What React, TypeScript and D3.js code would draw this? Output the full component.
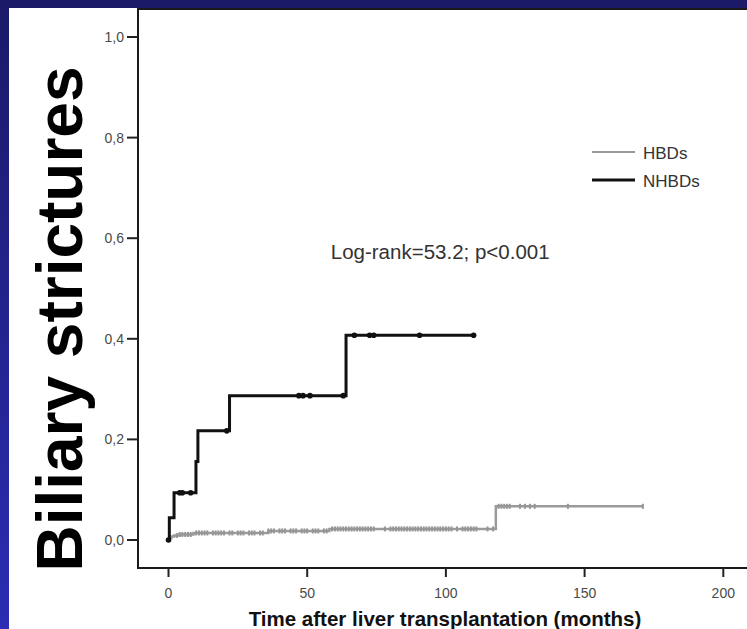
import React from 'react';
import * as d3 from 'd3';

// cumulative incidence of biliary strictures, step curves (months -> proportion)
const nhbdTimes = [0, 0.3, 2, 9.9, 10.6, 22, 64, 110];
const nhbdRisk = [0, 0.044, 0.094, 0.156, 0.217, 0.287, 0.407, 0.407];
const nhbdCensored = [0, 4, 5, 8, 21, 47, 48.5, 51, 63, 67, 72.5, 74, 90.5, 110];

const hbdTimes = [0, 0.5, 1, 2, 4, 9, 36, 58, 118, 171];
const hbdRisk = [0, 0.004, 0.007, 0.009, 0.011, 0.014, 0.018, 0.022, 0.067, 0.067];
const hbdCensored = [
  3, 4, 5, 6, 7, 8, 10, 11, 12, 13, 14, 16, 17, 18, 19, 20, 22, 23, 25, 26, 27, 29, 30,
  31, 33, 34, 36, 37, 38, 40, 41, 42, 44, 45, 46, 48, 49, 50, 52, 53, 54, 56, 57, 59, 60,
  61, 62, 63, 64, 65, 66, 67, 68, 69, 70, 71, 72, 73, 74, 78, 80, 81, 82, 83, 84, 85, 86,
  87, 88, 89, 90, 91, 92, 93, 94, 95, 96, 97, 98, 99, 100, 101, 102, 104, 106, 107, 108,
  109, 110, 111, 115, 117, 119, 120, 121, 122, 123, 126.7, 128.5, 130.3, 132, 144, 171,
];

const xTicks = [0, 50, 100, 150, 200];
const yTicks = [0, 0.2, 0.4, 0.6, 0.8, 1.0];
const legendLabels = ['HBDs', 'NHBDs'];
const annotation = 'Log-rank=53.2; p<0.001';
const xTitle = 'Time after liver transplantation (months)';
const yTitle = 'Biliary strictures';

const W = 747;
const H = 629;
const frame = { left: 138, right: 747, top: 9, bottom: 568 };
const font = 'Arial, "Liberation Sans", Helvetica, sans-serif';

const x = d3.scaleLinear().domain([0, 200]).range([168.5, 723.3]);
const y = d3.scaleLinear().domain([0, 1]).range([540, 37]);

const stepLine = d3
  .line<[number, number]>()
  .x(d => x(d[0]))
  .y(d => y(d[1]))
  .curve(d3.curveStepAfter);

const valueAt = (times: number[], risk: number[], t: number) => {
  const i = d3.bisectRight(times, t) - 1;
  return risk[Math.max(0, i)];
};

const fmt = (v: number) => d3.format('.1f')(v).replace('.', ',');

export default function App() {
  const nhbdPts = nhbdTimes.map((t, i) => [t, nhbdRisk[i]] as [number, number]);
  const hbdPts = hbdTimes.map((t, i) => [t, hbdRisk[i]] as [number, number]);

  return (
    <svg
      width={W}
      height={H}
      style={{ position: 'absolute', left: 0, top: 0, display: 'block' }}
      fontFamily={font}
    >
      <defs>
        <linearGradient id="bg" x1="0" y1="0" x2="0" y2="1">
          <stop offset="0%" stopColor="#1a1a68" />
          <stop offset="100%" stopColor="#2c2cb4" />
        </linearGradient>
      </defs>
      <rect width={W} height={H} fill="url(#bg)" />
      <rect x={9} y={8} width={W - 9} height={H - 8} fill="#fff" />

      {/* frame */}
      <path
        d={`M${frame.right},${frame.top}H${frame.left}V${frame.bottom}H${frame.right}`}
        fill="none"
        stroke="#1a1a1a"
        strokeWidth={2}
      />

      {/* y axis */}
      {yTicks.map(v => (
        <g key={v}>
          <line x1={frame.left - 11} x2={frame.left} y1={y(v)} y2={y(v)} stroke="#222" strokeWidth={2} />
          <text x={frame.left - 14} y={y(v) + 5} textAnchor="end" fontSize={14} fill="#4a4a4a">
            {fmt(v)}
          </text>
        </g>
      ))}

      {/* x axis */}
      {xTicks.map(v => (
        <g key={v}>
          <line x1={x(v)} x2={x(v)} y1={frame.bottom} y2={frame.bottom + 9} stroke="#222" strokeWidth={2} />
          <text x={x(v)} y={frame.bottom + 30} textAnchor="middle" fontSize={14} fill="#4a4a4a">
            {v}
          </text>
        </g>
      ))}

      <text x={445} y={626} textAnchor="middle" fontSize={20.5} fontWeight="bold" fill="#111">
        {xTitle}
      </text>

      <text
        transform={`translate(82,319) rotate(-90)`}
        textAnchor="middle"
        fontSize={64}
        fontWeight="bold"
        fill="#000"
      >
        {yTitle}
      </text>

      {/* HBDs */}
      <path d={stepLine(hbdPts) ?? ''} fill="none" stroke="#9a9a9a" strokeWidth={2.5} />
      {hbdCensored.map((t, i) => {
        const v = valueAt(hbdTimes, hbdRisk, t);
        return (
          <line
            key={i}
            x1={x(t)}
            x2={x(t)}
            y1={y(v) - 2.5}
            y2={y(v) + 2.5}
            stroke="#959595"
            strokeWidth={2}
          />
        );
      })}

      {/* NHBDs */}
      <path d={stepLine(nhbdPts) ?? ''} fill="none" stroke="#111" strokeWidth={3} />
      {nhbdCensored.map((t, i) => {
        const v = valueAt(nhbdTimes, nhbdRisk, t);
        return <circle key={i} cx={x(t)} cy={y(v)} r={2.8} fill="#111" />;
      })}

      <text x={x(58.5)} y={y(0.558)} fontSize={20.5} fill="#333">
        {annotation}
      </text>

      {/* legend */}
      {legendLabels.map((label, i) => (
        <g key={label} transform={`translate(592,${152 + i * 28})`}>
          <line
            x1={0}
            x2={43}
            y1={0}
            y2={0}
            stroke={i === 0 ? '#9a9a9a' : '#111'}
            strokeWidth={i === 0 ? 2 : 3}
          />
          <text x={51} y={7} fontSize={17} fill="#333">
            {label}
          </text>
        </g>
      ))}
    </svg>
  );
}
